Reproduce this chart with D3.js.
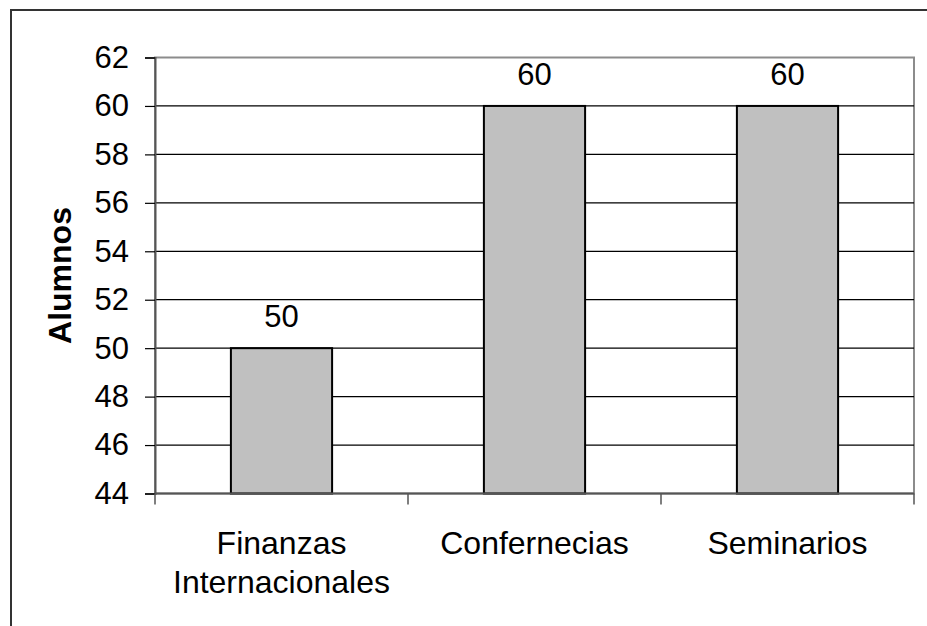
<!DOCTYPE html>
<html><head><meta charset="utf-8">
<script src="https://cdn.jsdelivr.net/npm/d3@7"></script>
<style>body{margin:0;background:#fff}svg{display:block}</style>
</head><body>
<script>
const categories = [["Finanzas","Internacionales"],["Confernecias"],["Seminarios"]];
const values = [50, 60, 60];
const yTicks = [44,46,48,50,52,54,56,58,60,62];
const yTitle = "Alumnos";

const W = 927, H = 626;
const svg = d3.select("body").append("svg").attr("width", W).attr("height", H);
const font = "Arial, 'Liberation Sans', sans-serif";
const fs = 31;

// outer border
svg.append("rect").attr("x", 11).attr("y", 10).attr("width", 940).attr("height", 640)
  .attr("fill", "none").attr("stroke", "#333").attr("stroke-width", 2);

const L = 155, R = 914, T = 57.5, B = 493.5;
const x = d3.scaleBand().domain(d3.range(categories.length)).range([L, R]).paddingInner(0).paddingOuter(0);
const y = d3.scaleLinear().domain([44, 62]).range([B, T]);

// plot border (gray)
svg.append("rect").attr("x", L).attr("y", T).attr("width", R - L).attr("height", B - T)
  .attr("fill", "none").attr("stroke", "#8c8c8c").attr("stroke-width", 2);

// gridlines
svg.append("g").selectAll("line").data(yTicks.filter(t => t > 44 && t < 62)).join("line")
  .attr("x1", L).attr("x2", R).attr("y1", d => y(d)).attr("y2", d => y(d))
  .attr("stroke", "#000").attr("stroke-width", 1.2);

// bars
const bw = x.bandwidth() / 2.5;
svg.append("g").selectAll("rect").data(values).join("rect")
  .attr("x", (d, i) => x(i) + (x.bandwidth() - bw) / 2)
  .attr("y", d => y(d))
  .attr("width", bw)
  .attr("height", d => y(44) - y(d))
  .attr("fill", "#c0c0c0").attr("stroke", "#000").attr("stroke-width", 2);

// y axis
const yAxis = d3.axisLeft(y).tickValues(yTicks).tickSize(10).tickPadding(16).tickFormat(d3.format("d"));
const ga = svg.append("g").attr("transform", `translate(${L},0)`).call(yAxis);
ga.select(".domain").attr("stroke", "#555").attr("stroke-width", 2);
ga.selectAll(".tick line").attr("stroke", "#000").attr("stroke-width", 1.2);
ga.selectAll(".tick text").attr("font-family", font).attr("font-size", fs).attr("fill", "#000");

// x axis line & ticks at category boundaries
svg.append("line").attr("x1", L).attr("x2", R).attr("y1", B).attr("y2", B)
  .attr("stroke", "#555").attr("stroke-width", 2);
const bounds = d3.range(categories.length + 1).map(i => i < categories.length ? x(i) : R);
svg.append("g").selectAll("line").data(bounds).join("line")
  .attr("x1", d => d).attr("x2", d => d).attr("y1", B).attr("y2", B + 11)
  .attr("stroke", "#555").attr("stroke-width", 1.5);

// category labels
const cl = svg.append("g").selectAll("text").data(categories).join("text")
  .attr("font-family", font).attr("font-size", 32).attr("fill", "#000")
  .attr("text-anchor", "middle");
cl.each(function(d, i) {
  const t = d3.select(this);
  d.forEach((line, j) => {
    t.append("tspan").attr("x", x(i) + x.bandwidth() / 2).attr("y", 554 + j * 39).text(line);
  });
});

// value labels
svg.append("g").selectAll("text").data(values).join("text")
  .attr("x", (d, i) => x(i) + x.bandwidth() / 2)
  .attr("y", d => y(d) - 21)
  .attr("text-anchor", "middle").attr("font-family", font).attr("font-size", fs).attr("fill", "#000")
  .text(d => d);

// y title
svg.append("text").attr("transform", `translate(71,${(T + B) / 2}) rotate(-90)`)
  .attr("text-anchor", "middle").attr("font-family", font).attr("font-size", 32)
  .attr("font-weight", "bold").attr("fill", "#000").text(yTitle);
</script>
</body></html>
